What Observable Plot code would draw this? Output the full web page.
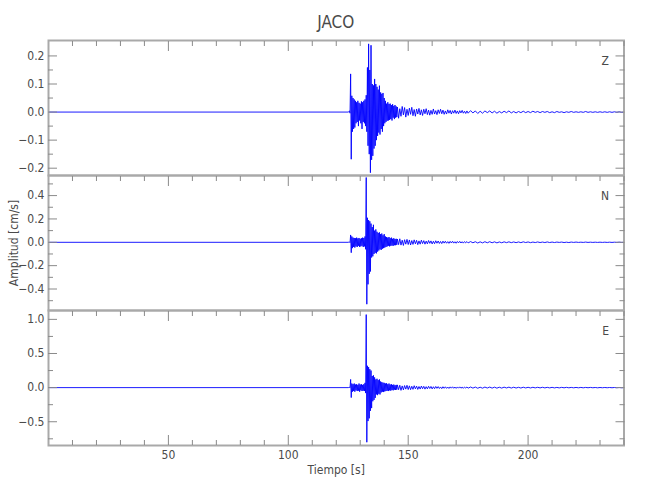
<!DOCTYPE html>
<html><head><meta charset="utf-8">
<script src="https://cdn.jsdelivr.net/npm/d3@7"></script>
<script src="https://cdn.jsdelivr.net/npm/@observablehq/plot@0.6"></script>
<style>
body{margin:0;background:#fff;}
#chart{position:relative;width:650px;height:500px;background:#fff;font-family:"Liberation Sans Narrow","DejaVu Sans Condensed",sans-serif;}
#title{position:absolute;left:48px;width:575.5px;top:13px;line-height:18px;text-align:center;font-size:17px;color:#4a4a4a;}
#chart svg{position:absolute;left:0;overflow:visible;}
</style></head><body>
<div id="chart"><div id="title"></div></div>
<script>
// ---- data ----
const title = "JACO";
const components = ["Z", "N", "E"];
const xLabel = "Tiempo [s]";
const yLabel = "Amplitud [cm/s]";
const xMajor = [50, 100, 150, 200];
const xMinor = [10, 20, 30, 40, 60, 70, 80, 90, 110, 120, 130, 140, 160, 170, 180, 190, 210, 220, 230, 240];
const xDomain = [0, 240];

// sampling grid of the trace (seconds)
const tStart = 0;
const tMain = d3.range(125.5, 145.01, 0.5);                                // 40 peak / trough pairs
const tCoda = d3.range(145.5, 174.6, 0.5).concat(d3.range(175, 240.5, 1)); // 59 + 66 signed coda peaks

// Z component
const zUp = [0.004,0.136,0.058,0.05,0.045,0.04,0.035,0.04,0.033,0.03, 0.038,0.035,0.04,0.045,0.06,0.159,0.243,0.15,0.238,0.1, 0.095,0.118,0.1,0.09,0.08,0.094,0.07,0.065,0.068,0.05, 0.04,0.03,0.035,0.029,0.03,0.025,0.028,0.022,0.025,0.02];
const zLo = [-0.004,-0.168,-0.07,-0.06,-0.055,-0.04,-0.035,-0.05,-0.03,-0.04, -0.06,-0.035,-0.04,-0.05,-0.07,-0.12,-0.15,-0.216,-0.17,-0.156, -0.13,-0.12,-0.1,-0.085,-0.073,-0.08,-0.06,-0.07,-0.05,-0.04, -0.035,-0.031,-0.03,-0.028,-0.025,-0.03,-0.02,-0.025,-0.02,-0.018];
const zCoda = [0.018,-0.022,0.012,-0.015,0.02,-0.01,0.016,-0.018,0.01,-0.012,
  0.014,-0.008,0.017,-0.013,0.009,-0.015,0.011,-0.007,0.013,-0.01,
  0.008,-0.012,0.01,-0.006,0.012,-0.009,0.007,-0.011,0.006,-0.008,
  0.011,-0.007,0.005,-0.009,0.008,-0.005,0.01,-0.006,0.007,-0.008,
  0.004,-0.007,0.008,-0.004,0.006,-0.007,0.005,-0.004,0.007,-0.005,
  0.004,-0.006,0.005,-0.003,0.006,-0.004,0.003,-0.005,0.004,
  -0.004,0.005,-0.003,0.004,-0.005,0.003,-0.004,0.004,-0.002,0.004,
  -0.003,0.003,-0.004,0.002,-0.003,0.003,-0.002,0.004,-0.003,0.002,
  -0.003,0.002,-0.002,0.003,-0.002,0.002,-0.002,0.003,-0.001,0.002,
  -0.002,0.002,-0.001,0.002,-0.002,0.001,-0.002,0.002,-0.001,0.001,
  -0.002,0.001,-0.001,0.002,-0.001,0.001,-0.001,0.001,-0.001,0.002,
  -0.001,0.001,-0.001,0.001,-0.001,0.001,-0.001,0.001,-0.001,0.001,
  -0.001,0.001,-0.001,0.001,-0.001,0];
const zDomain = [-0.226, 0.255];
const zMajor = [-0.2, -0.1, 0, 0.1, 0.2];
const zMinor = [-0.15, -0.05, 0.05, 0.15];

// N component
const nUp = [0.003,0.063,0.05,0.04,0.037,0.035,0.04,0.033,0.037,0.03, 0.035,0.04,0.037,0.05,0.555,0.21,0.19,0.18,0.16,0.13, 0.15,0.1,0.11,0.09,0.08,0.085,0.07,0.075,0.06,0.07, 0.05,0.045,0.04,0.045,0.035,0.04,0.03,0.035,0.028,0.03];
const nLo = [-0.003,-0.089,-0.05,-0.04,-0.045,-0.035,-0.04,-0.03,-0.04,-0.035, -0.03,-0.04,-0.035,-0.06,-0.53,-0.36,-0.27,-0.25,-0.13,-0.12, -0.1,-0.09,-0.095,-0.08,-0.07,-0.06,-0.065,-0.055,-0.05,-0.045, -0.04,-0.035,-0.03,-0.035,-0.03,-0.028,-0.03,-0.025,-0.025,-0.022];
const nCoda = [0.028,-0.02,0.03,-0.024,0.018,-0.027,0.022,-0.016,0.025,-0.019,
  0.02,-0.023,0.015,-0.018,0.021,-0.013,0.017,-0.02,0.012,-0.016,
  0.018,-0.011,0.014,-0.016,0.01,-0.013,0.015,-0.009,0.012,-0.014,
  0.009,-0.012,0.013,-0.008,0.011,-0.01,0.007,-0.011,0.01,-0.007,
  0.009,-0.008,0.006,-0.009,0.008,-0.006,0.009,-0.007,0.005,-0.008,
  0.007,-0.005,0.008,-0.006,0.005,-0.007,0.006,-0.004,0.006,
  -0.005,0.006,-0.004,0.005,-0.006,0.004,-0.005,0.005,-0.004,0.005,
  -0.004,0.004,-0.005,0.003,-0.004,0.004,-0.003,0.004,-0.003,0.003,
  -0.003,0.003,-0.003,0.004,-0.002,0.003,-0.003,0.002,-0.002,0.003,
  -0.002,0.002,-0.002,0.003,-0.002,0.002,-0.002,0.002,-0.001,0.002,
  -0.002,0.001,-0.002,0.002,-0.001,0.002,-0.001,0.001,-0.001,0.002,
  -0.001,0.001,-0.001,0.001,-0.001,0.001,-0.001,0.001,-0.001,0.001,
  -0.001,0.001,-0.001,0.001,-0.001,0];
const nDomain = [-0.584, 0.572];
const nMajor = [-0.4, -0.2, 0, 0.2, 0.4];
const nMinor = [-0.5, -0.3, -0.1, 0.1, 0.3, 0.5];

// E component
const eUp = [0.004,0.12,0.06,0.05,0.06,0.045,0.05,0.04,0.06,0.045, 0.05,0.04,0.05,0.07,1.07,0.32,0.3,0.27,0.25,0.17, 0.18,0.15,0.12,0.13,0.11,0.12,0.09,0.08,0.073,0.07, 0.06,0.065,0.05,0.06,0.045,0.05,0.04,0.045,0.035,0.04];
const eLo = [-0.004,-0.146,-0.06,-0.05,-0.06,-0.04,-0.05,-0.045,-0.06,-0.04, -0.05,-0.045,-0.05,-0.08,-0.8,-0.49,-0.45,-0.34,-0.3,-0.2, -0.18,-0.15,-0.1,-0.11,-0.09,-0.1,-0.07,-0.06,-0.065,-0.055, -0.05,-0.045,-0.05,-0.04,-0.045,-0.035,-0.04,-0.03,-0.035,-0.03];
const eCoda = [0.04,-0.03,0.035,-0.04,0.025,-0.033,0.03,-0.022,0.034,-0.028,
  0.026,-0.03,0.02,-0.025,0.028,-0.018,0.022,-0.026,0.016,-0.021,
  0.023,-0.016,0.019,-0.022,0.014,-0.018,0.02,-0.013,0.017,-0.019,
  0.013,-0.016,0.017,-0.011,0.015,-0.013,0.01,-0.015,0.013,-0.01,
  0.012,-0.011,0.009,-0.012,0.011,-0.008,0.012,-0.009,0.008,-0.011,
  0.01,-0.008,0.011,-0.008,0.007,-0.01,0.009,-0.006,0.009,
  -0.008,0.009,-0.007,0.008,-0.009,0.006,-0.008,0.008,-0.006,0.008,
  -0.007,0.007,-0.008,0.006,-0.007,0.007,-0.005,0.007,-0.006,0.006,
  -0.006,0.005,-0.006,0.006,-0.005,0.005,-0.005,0.005,-0.004,0.005,
  -0.004,0.005,-0.004,0.004,-0.004,0.004,-0.004,0.003,-0.004,0.004,
  -0.003,0.004,-0.003,0.003,-0.003,0.003,-0.003,0.003,-0.003,0.003,
  -0.002,0.003,-0.002,0.002,-0.003,0.002,-0.002,0.002,-0.002,0.002,
  -0.002,0.002,-0.002,0.002,-0.002,0];
const eDomain = [-0.848, 1.13];
const eMajor = [-0.5, 0, 0.5, 1];
const eMinor = [-0.75, -0.25, 0.25, 0.75];

// ---- drawing ----
const font = '"Liberation Sans Narrow","DejaVu Sans Condensed",sans-serif';
const frameColor = "#a9a9a9", tickColor = "#8a8a8a", textColor = "#4a4a4a", traceColor = "#0000ff";
const blank = () => "";
document.getElementById("title").textContent = title;

function trace(up, lo, coda) {
  const pts = [{t: tStart, v: 0}, {t: tMain[0] - 0.5, v: 0}];
  tMain.forEach((t, i) => { pts.push({t, v: up[i]}); pts.push({t: t + 0.25, v: lo[i]}); });
  tCoda.forEach((t, i) => pts.push({t, v: coda[i]}));
  return pts;
}

function panel(o) {
  const marks = [
    Plot.line(trace(o.up, o.lo, o.coda), {x: "t", y: "v", stroke: traceColor, strokeWidth: 0.9}),
    Plot.frame({stroke: frameColor, strokeWidth: 2}),
    Plot.axisY(o.major, {anchor: "left", tickSize: 0, tickPadding: 4, tickFormat: d3.format(".1f"),
      label: o.yLabel || null, labelAnchor: "center", labelOffset: 39, labelArrow: "none", fontSize: 12, fill: textColor}),
    Plot.axisY(o.major, {anchor: "left", tickSize: -9, tickFormat: blank, label: null, stroke: tickColor}),
    Plot.axisY(o.minor, {anchor: "left", tickSize: -5, tickFormat: blank, label: null, stroke: tickColor}),
    Plot.axisY(o.major, {anchor: "right", tickSize: -9, tickFormat: blank, label: null, stroke: tickColor}),
    Plot.axisY(o.minor, {anchor: "right", tickSize: -5, tickFormat: blank, label: null, stroke: tickColor}),
    Plot.axisX(xMajor, {anchor: "top", tickSize: -10, tickFormat: blank, label: null, stroke: tickColor}),
    Plot.axisX(xMinor, {anchor: "top", tickSize: -5, tickFormat: blank, label: null, stroke: tickColor}),
    Plot.text([o.name], {text: d => d, frameAnchor: "top-right", dx: -15, dy: 21, textAnchor: "end", lineAnchor: "middle", fontSize: 12, fill: textColor})
  ];
  if (o.bottom) {
    marks.push(
      Plot.axisX(xMajor, {anchor: "bottom", tickSize: 0, tickPadding: 5, label: xLabel, labelAnchor: "center", labelOffset: 28, labelArrow: "none", fontSize: 12, fill: textColor}),
      Plot.axisX(xMajor, {anchor: "bottom", tickSize: -10, tickFormat: blank, label: null, stroke: tickColor}),
      Plot.axisX(xMinor, {anchor: "bottom", tickSize: -5, tickFormat: blank, label: null, stroke: tickColor})
    );
  }
  const svg = Plot.plot({
    width: 650, height: o.height,
    marginLeft: 48, marginRight: 26.5, marginTop: o.marginTop, marginBottom: o.marginBottom,
    x: {domain: xDomain, label: null},
    y: {domain: o.domain, label: null},
    style: {fontFamily: font, fontSize: "12px", color: textColor, background: "transparent", overflow: "visible"},
    marks
  });
  svg.style.top = o.top + "px";
  document.getElementById("chart").appendChild(svg);
}

panel({name: components[0], up: zUp, lo: zLo, coda: zCoda, domain: zDomain, major: zMajor, minor: zMinor,
  top: 0, height: 175, marginTop: 40, marginBottom: 0});
panel({name: components[1], up: nUp, lo: nLo, coda: nCoda, domain: nDomain, major: nMajor, minor: nMinor,
  top: 175, height: 135, marginTop: 0, marginBottom: 0, yLabel});
panel({name: components[2], up: eUp, lo: eLo, coda: eCoda, domain: eDomain, major: eMajor, minor: eMinor,
  top: 310, height: 190, marginTop: 0, marginBottom: 55, bottom: true});
</script></body></html>
